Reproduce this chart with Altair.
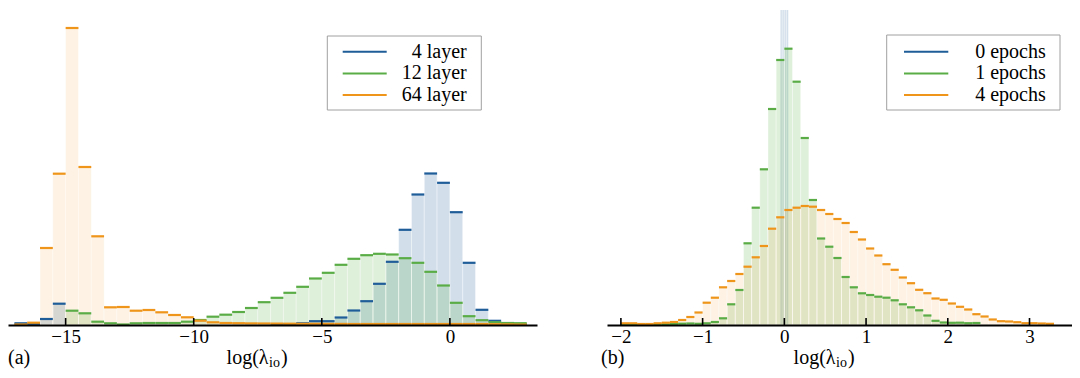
import altair as alt
import pandas as pd

FONT = "Liberation Serif"

# ---------------- data ----------------
left_names = ["4 layer", "12 layer", "64 layer"]
right_names = ["0 epochs", "1 epochs", "4 epochs"]
colors = ["#1f5d99", "#5aad46", "#ee951a"]
fill_opacity = [0.2, 0.2, 0.12]

# panel (a): bins of width 0.5 starting at -17
left_bin_start = -17.0
left_bin_width = 0.5
left_4 = [1.7, 1.2, 6.0, 21.3, 0.0, 0.0, 0.0, 0.0, 0.0, 0.0,
          0.0, 0.0, 0.0, 0.0, 0.0, 0.0, 0.0, 0.0, 0.0, 0.0,
          0.3, 0.8, 1.7, 3.8, 3.8, 7.5, 14.5, 23.8, 41.2, 63.2,
          95.2, 130.5, 151.5, 142.2, 112.8, 62.2, 15.2, 4.2, 1.5, 0.5]
left_12 = [0.0, 0.0, 0.0, 0.0, 14.3, 11.7, 3.3, 1.7, 0.5, 1.7,
           2.0, 2.0, 2.0, 3.3, 5.0, 8.3, 10.3, 13.0, 17.0, 22.8,
           27.2, 32.2, 38.2, 46.5, 52.2, 60.2, 66.2, 69.8, 71.2, 70.5,
           66.8, 62.2, 53.2, 39.5, 22.2, 8.8, 4.8, 2.8, 2.0, 1.8]
left_64 = [0.5, 2.3, 77.0, 151.3, 297.0, 158.0, 88.7, 17.7, 18.0, 14.3,
           15.0, 12.7, 10.0, 7.7, 4.3, 2.7, 2.0, 1.8, 1.6, 1.5,
           1.4, 1.3, 1.2, 1.2, 1.1, 1.1, 1.0, 1.0, 1.0, 1.0,
           1.0, 1.0, 1.0, 1.0, 1.0, 1.0, 1.0, 0.8, 0.6, 0.4]

# panel (b): bins of width 0.1 starting at -2
right_bin_start = -2.0
right_bin_width = 0.1
right_1 = [0.3, 0.3, 0.3, 0.5, 0.5, 0.7, 1.0, 1.3, 1.5, 1.2,
           1.7, 3.0, 6.7, 20.7, 35.0, 81.7, 117.3, 155.7, 216.0, 265.0,
           276.3, 243.3, 187.0, 125.0, 86.5, 78.3, 67.0, 48.0, 37.7, 31.7,
           30.0, 28.3, 27.3, 24.7, 20.7, 17.7, 14.7, 9.5, 4.2, 2.5,
           2.2, 2.3, 1.8, 2.0, 0.0, 0.0, 0.0, 0.0, 0.0, 0.0,
           0.0, 0.0, 0.0]
right_4 = [1.7, 1.7, 1.0, 1.0, 1.7, 2.3, 3.0, 5.0, 8.0, 12.5,
           22.3, 27.3, 37.7, 44.0, 51.0, 58.3, 67.7, 79.0, 96.3, 107.7,
           115.0, 117.3, 119.0, 118.3, 115.0, 111.0, 106.0, 102.0, 93.0, 85.5,
           76.5, 69.5, 60.8, 55.2, 47.5, 41.8, 35.2, 31.8, 26.5, 25.2,
           21.5, 18.2, 15.5, 10.8, 8.5, 5.5, 3.8, 3.5, 2.8, 1.8,
           1.8, 1.5, 1.2]
right_0_edges = [-0.05, -0.025, 0.0, 0.025, 0.05]
right_0 = [1000.0, 1000.0, 1000.0, 1000.0]

left_ticks = [-15, -10, -5, 0]
right_ticks = [-2, -1, 0, 1, 2, 3]
left_domain = [-17.25, 3.4]
right_domain = [-2.17, 3.52]


def uniform_rows(name, start, width, values):
    rows = []
    for i, v in enumerate(values):
        s = start + i * width
        rows.append({"series": name, "start": s, "end": s + width, "h": v})
    return rows


def edge_rows(name, edges, values):
    return [{"series": name, "start": edges[i], "end": edges[i + 1], "h": v}
            for i, v in enumerate(values)]


left_sets = [
    pd.DataFrame(uniform_rows(left_names[0], left_bin_start, left_bin_width, left_4)),
    pd.DataFrame(uniform_rows(left_names[1], left_bin_start, left_bin_width, left_12)),
    pd.DataFrame(uniform_rows(left_names[2], left_bin_start, left_bin_width, left_64)),
]
right_sets = [
    pd.DataFrame(edge_rows(right_names[0], right_0_edges, right_0)),
    pd.DataFrame(uniform_rows(right_names[1], right_bin_start, right_bin_width, right_1)),
    pd.DataFrame(uniform_rows(right_names[2], right_bin_start, right_bin_width, right_4)),
]

H = 315
dummy = pd.DataFrame({"k": [0]})


def panel(sets, names, domain, ticks, W, label, label_x, box, line_x, text_x):
    x_scale = alt.Scale(domain=domain, nice=False, zero=False)
    y_scale = alt.Scale(domain=[0, H], nice=False, zero=True)
    axis = alt.Axis(values=ticks, title=None, labelFont=FONT, labelFontSize=19,
                    labelColor="black", domainColor="black", domainWidth=2,
                    ticks=False, tickSize=0, labelPadding=2, grid=False,
                    labelFlush=False, zindex=1)
    color = alt.Color("series:N", scale=alt.Scale(domain=names, range=colors), legend=None)

    bar_layers = []
    top_layers = []
    for df, op in zip(sets, fill_opacity):
        base = alt.Chart(df).transform_filter("datum.h > 0")
        bar_layers.append(base.mark_rect(clip=True, stroke="white", strokeWidth=0.7,
                                         strokeOpacity=0.6, fillOpacity=op).encode(
            x=alt.X("start:Q", scale=x_scale, axis=axis),
            x2="end:Q",
            y=alt.Y("h:Q", scale=y_scale, axis=None),
            y2=alt.datum(0),
            color=color,
        ))
        top_layers.append(base.mark_rule(clip=True, strokeWidth=2.2).encode(
            x=alt.X("start:Q", scale=x_scale, axis=axis),
            x2="end:Q",
            y=alt.Y("h:Q", scale=y_scale, axis=None),
            color=color,
        ))
    tk = alt.Chart(pd.DataFrame({"t": ticks})).mark_rule(color="black", strokeWidth=1.6).encode(
        x=alt.X("t:Q", scale=x_scale, axis=axis),
        y=alt.value(H),
        y2=alt.value(H - 7),
    )
    bx0, bx1, by0, by1 = box
    legbox = alt.Chart(dummy).mark_rect(fill="white", stroke="#a0a0a0", strokeWidth=1).encode(
        x=alt.value(bx0), x2=alt.value(bx1), y=alt.value(by0), y2=alt.value(by1)
    )
    leg_df = pd.DataFrame({"series": names, "row": [0, 1, 2]})
    leg = alt.Chart(leg_df).transform_calculate(yp=f"{H} - (41.7 + 21.7*datum.row)")
    leg_lines = leg.mark_rule(strokeWidth=2).encode(
        x=alt.value(line_x[0]), x2=alt.value(line_x[1]),
        y=alt.Y("yp:Q", scale=y_scale, axis=None), color=color,
    )
    leg_text = leg.mark_text(align="right", baseline="middle", fontSize=20, font=FONT, color="black").encode(
        x=alt.value(text_x), y=alt.Y("yp:Q", scale=y_scale, axis=None), text="series:N"
    )
    ty = H + 33
    lab = alt.Chart(dummy).mark_text(align="left", baseline="middle", fontSize=20, font=FONT, color="black").encode(
        x=alt.value(label_x), y=alt.value(ty), text=alt.value(label)
    )
    cx = W / 2 - 4
    t1 = alt.Chart(dummy).mark_text(align="right", baseline="middle", fontSize=20, font=FONT, color="black").encode(
        x=alt.value(cx), y=alt.value(ty), text=alt.value("log(λ")
    )
    t2 = alt.Chart(dummy).mark_text(align="left", baseline="middle", fontSize=14, font=FONT, color="black").encode(
        x=alt.value(cx + 0.5), y=alt.value(ty + 5), text=alt.value("io")
    )
    t3 = alt.Chart(dummy).mark_text(align="left", baseline="middle", fontSize=20, font=FONT, color="black").encode(
        x=alt.value(cx + 12.5), y=alt.value(ty), text=alt.value(")")
    )
    return alt.layer(*bar_layers, *top_layers, tk, legbox, leg_lines, leg_text, lab, t1, t2, t3).properties(
        width=W, height=H)


left = panel(left_sets, left_names, left_domain, left_ticks, 529, "(a)", 0,
             (319.3, 473.3, 26, 100), (334.7, 378.7), 458.7)
right = panel(right_sets, right_names, right_domain, right_ticks, 465, "(b)", -6,
              (279.7, 453, 25, 100), (297, 341.3), 438.7)

chart = alt.hconcat(left, right, spacing=70, bounds="flush").configure_view(stroke=None).properties(
    padding={"left": 0, "top": 2, "right": 0, "bottom": 0}
)

chart.save("out.html", embed_options={"renderer": "svg", "actions": False})
